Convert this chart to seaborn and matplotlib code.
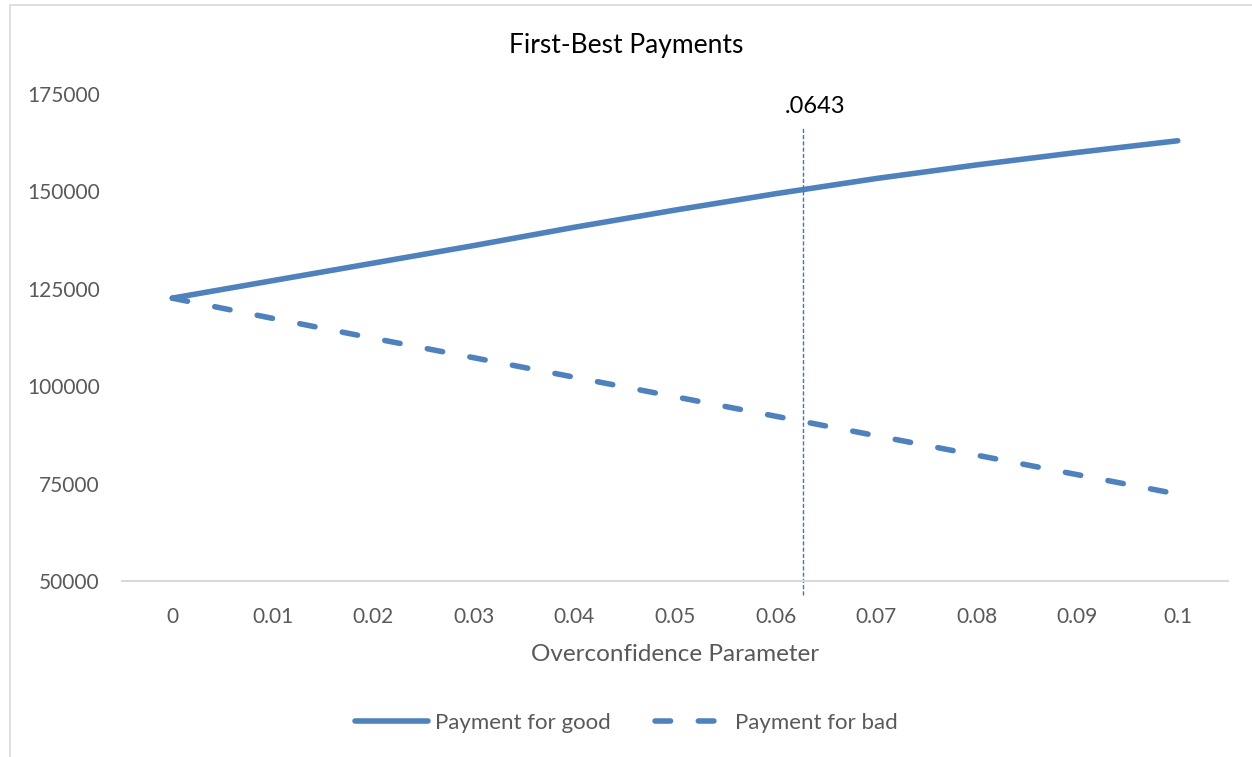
import pandas as pd
import matplotlib
matplotlib.use("Agg")
import matplotlib.pyplot as plt
import seaborn as sns
from matplotlib.patches import Rectangle

# values
overconfidence = [0.0, 0.01, 0.02, 0.03, 0.04, 0.05, 0.06, 0.07, 0.08, 0.09, 0.1]
x_labels = ["0", "0.01", "0.02", "0.03", "0.04", "0.05", "0.06", "0.07", "0.08", "0.09", "0.1"]
pay_good = [122600, 127100, 131600, 136100, 140800, 145200, 149400, 153300, 156800, 160000, 163000]
pay_bad = [122600, 117400, 112300, 107300, 102300, 97300, 92300, 87300, 82300, 77300, 72300]
y_ticks = [50000, 75000, 100000, 125000, 150000, 175000]
cutoff_x = 0.0627
cutoff_label = ".0643"

blue = "#4F81BD"
gray = "#595959"

sns.set_style("white")
plt.rcParams["font.family"] = ["Lato", "DejaVu Sans"]

df = pd.DataFrame({
    "x": overconfidence * 2,
    "payment": pay_good + pay_bad,
    "series": ["Payment for good"] * len(pay_good) + ["Payment for bad"] * len(pay_bad),
})

fig = plt.figure(figsize=(12.52, 7.57), dpi=100)
ax = fig.add_axes([122 / 1252, 1 - 581 / 757, (1228 - 122) / 1252, (581 - 94) / 757])

sns.lineplot(data=df, x="x", y="payment", hue="series", style="series",
             palette={"Payment for good": blue, "Payment for bad": blue},
             dashes={"Payment for good": "", "Payment for bad": (2.8, 5.0)},
             linewidth=4.0, ax=ax, legend=False)
for ln in ax.get_lines():
    ln.set_dash_capstyle("round")
    ln.set_solid_capstyle("round")

# cutoff marker
ax.plot([cutoff_x, cutoff_x], [51000 - 4500, 166500], color="#4472C4", lw=1.0,
        dashes=(3, 1.5), clip_on=False)
ax.text(cutoff_x + 0.0012, 169000, cutoff_label, ha="center", va="bottom",
        fontsize=17, color="black")

ax.set_xlim(-0.005, 0.105)
ax.set_ylim(50000, 175000)
ax.set_xticks(overconfidence)
ax.set_xticklabels(x_labels)
ax.set_yticks(y_ticks)
ax.tick_params(axis="both", length=0, labelsize=15, labelcolor=gray)
ax.tick_params(axis="x", pad=19)
ax.tick_params(axis="y", pad=16)
for s in ["top", "right", "left"]:
    ax.spines[s].set_visible(False)
ax.spines["bottom"].set_color("#D9D9D9")
ax.spines["bottom"].set_linewidth(1.5)

ax.set_xlabel("Overconfidence Parameter", fontsize=17.5, color=gray, labelpad=12)
ax.set_ylabel("")
fig.text(0.5, 1 - 45 / 757, "First-Best Payments", ha="center", va="center",
         fontsize=19, color="black")

handles = [
    plt.Line2D([], [], color=blue, lw=4.0, solid_capstyle="round"),
    plt.Line2D([], [], color=blue, lw=4.0, dashes=(2.8, 5.0), dash_capstyle="round"),
]
fig.legend(handles, ["Payment for good", "Payment for bad"], loc="center",
           bbox_to_anchor=(0.5, 1 - 723 / 757), ncol=2, frameon=False,
           fontsize=16, labelcolor=gray, handlelength=3.3, columnspacing=2.0,
           handletextpad=0.3)

# chart area border
fig.patches.append(Rectangle((10 / 1252, -0.01), 1.1, 1 - 5 / 757 + 0.01,
                             transform=fig.transFigure, fill=False,
                             edgecolor="#D9D9D9", lw=1.2))

fig.savefig("out.png", dpi=100)
